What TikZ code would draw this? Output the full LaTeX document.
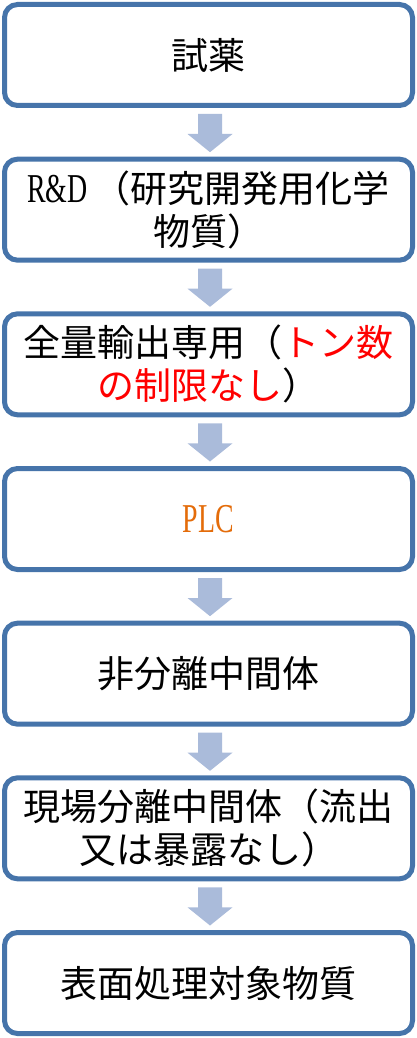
\documentclass[tikz,border=0pt]{standalone}
\usepackage{fontspec}
\setmainfont{Noto Sans CJK JP}
\newfontfamily\latinserif[FakeStretch=0.68]{Liberation Serif}
\newcommand\lat[1]{{\fontsize{41}{43}\latinserif #1}}
\usetikzlibrary{calc}
\definecolor{boxblue}{RGB}{70,116,170}
\definecolor{arrowblue}{RGB}{170,187,218}
\definecolor{plcorange}{RGB}{228,108,10}
\definecolor{notered}{RGB}{255,0,0}
\newcommand\flowarrow[2]{%
  \fill[arr] ($(#1.south)+(-10.5,-8.5)$) -- ($(#1.south)+(13.5,-8.5)$)
    -- ($(#1.south)+(13.5,-28.5)$) -- ($(#1.south)+(24,-28.5)$)
    -- ($(#2.north)+(1.5,7)$)
    -- ($(#1.south)+(-21,-28.5)$) -- ($(#1.south)+(-10.5,-28.5)$) -- cycle;}
\begin{document}
\begin{tikzpicture}[x=1pt,y=1pt,
  box/.style={draw=boxblue,line width=5pt,rounded corners=13pt,fill=white,
    minimum width=408pt,minimum height=101pt,align=center,outer sep=0pt,
    inner sep=0pt,font=\fontsize{37}{43}\selectfont},
  arr/.style={fill=arrowblue}]
\useasboundingbox (0,0) rectangle (417,-1038);
\node[box] (b1) at (208.5,-55) {試薬};
\node[box] (b2) at (208.5,-209.67) {\lat{R\&D}\hspace{6pt}（研究開発用化学\\物質）};
\node[box] (b3) at (208.5,-364.33) {全量輸出専用（\textcolor{notered}{トン数}\\\textcolor{notered}{の制限なし}）};
\node[box] (b4) at (208.5,-519) {\textcolor{plcorange}{\lat{PLC}}};
\node[box] (b5) at (208.5,-673.67) {非分離中間体};
\node[box] (b6) at (208.5,-828.33) {現場分離中間体（流出\\又は暴露なし）};
\node[box] (b7) at (208.5,-983) {表面処理対象物質};
\flowarrow{b1}{b2}
\flowarrow{b2}{b3}
\flowarrow{b3}{b4}
\flowarrow{b4}{b5}
\flowarrow{b5}{b6}
\flowarrow{b6}{b7}
\end{tikzpicture}
\end{document}
